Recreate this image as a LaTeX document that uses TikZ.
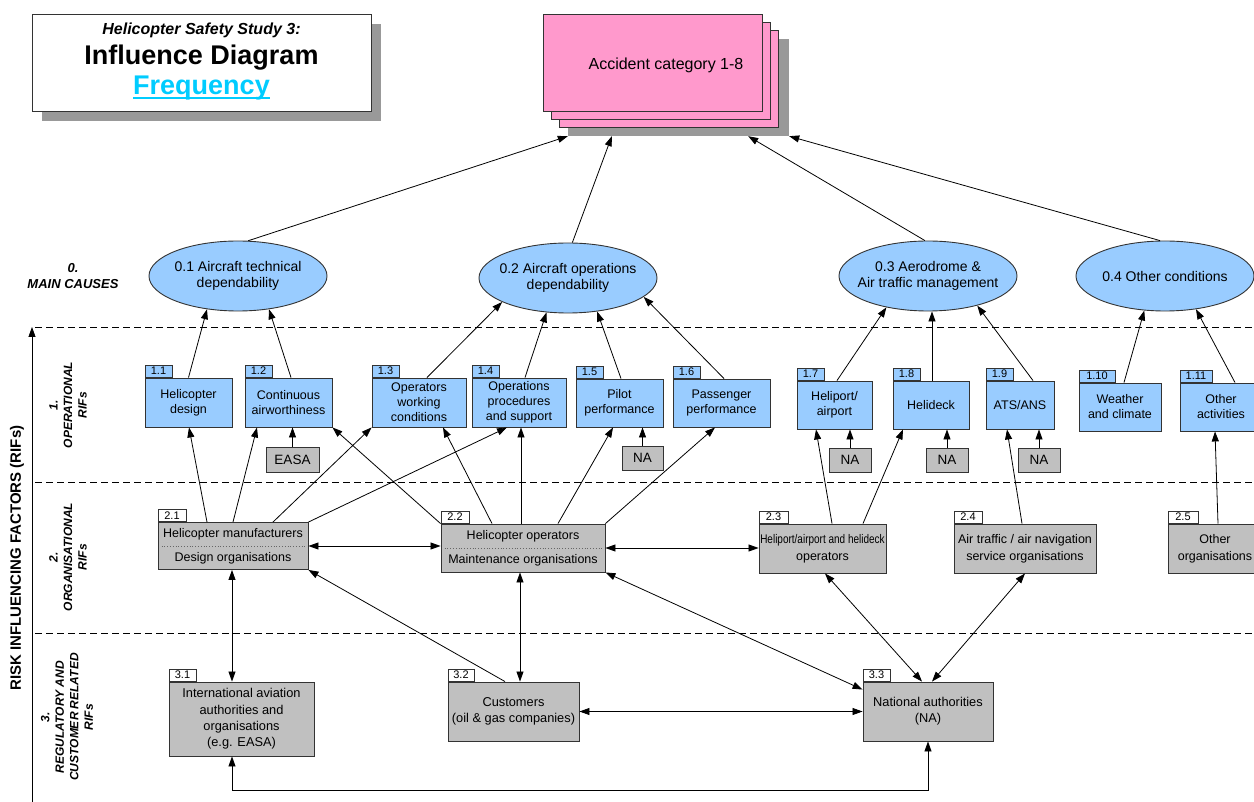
\documentclass[tikz,border=0pt]{standalone}
\usepackage{fontspec}
\setmainfont{Liberation Sans}
\usetikzlibrary{arrows.meta,shapes.geometric,calc}
\definecolor{boxblue}{HTML}{99CCFF}
\definecolor{boxgray}{HTML}{C0C0C0}
\definecolor{accpink}{HTML}{FF99CC}
\definecolor{shdgray}{HTML}{999999}
\definecolor{freqcyan}{HTML}{00CCFF}
\definecolor{edgec}{HTML}{333333}
\begin{document}
\begin{tikzpicture}[x=1pt,y=-1pt,
  lvA/.style={draw=edgec, fill=boxblue, line width=0.9pt, align=center, inner sep=0pt, font=\fontsize{12.5}{15}\selectfont},
  lvB/.style={draw=edgec, fill=boxgray, line width=0.9pt, align=center, inner sep=0pt, font=\fontsize{12.5}{17}\selectfont},
  lvC/.style={lvB, font=\fontsize{12.8}{16.3}\selectfont},
  tagA/.style={draw=edgec, fill=boxblue, line width=0.9pt, inner sep=0pt, minimum height=12pt, minimum width=27pt, anchor=south west, font=\fontsize{11}{11}\selectfont},
  tagB/.style={tagA, fill=white, minimum width=28pt},
  nabox/.style={draw=edgec, fill=boxgray, line width=0.9pt, inner sep=0pt, font=\fontsize{13.5}{14}\selectfont},
  ell/.style={ellipse, draw=edgec, fill=boxblue, line width=0.9pt, minimum width=178pt, minimum height=70pt, inner sep=0pt},
  elltext/.style={align=center, inner sep=0pt, font=\fontsize{14}{16}\selectfont},
  arr/.style={-{Triangle[length=10pt,width=7pt]}, line width=0.8pt},
  darr/.style={{Triangle[length=10pt,width=7pt]}-{Triangle[length=10pt,width=7pt]}, line width=0.8pt},
  sepline/.style={dash pattern=on 7pt off 4pt, line width=0.9pt},
  sidelbl/.style={align=center, font=\fontsize{12}{14.5}\selectfont\bfseries\itshape},
  accbox/.style={draw=edgec, fill=accpink, line width=0.9pt, minimum width=219pt, minimum height=97pt, inner sep=0pt}
]
\useasboundingbox (0,0) rectangle (1254,802);

% ---------- title ----------
\node[fill=shdgray, minimum width=339pt, minimum height=97pt, inner sep=0pt] (titlesh) at (211.5,72.5) {};
\node[draw=edgec, fill=white, line width=0.9pt, minimum width=339pt, minimum height=97pt, inner sep=0pt] (title) at (201.5,62.5) {};
\node[anchor=base, font=\fontsize{16}{18}\selectfont\bfseries\itshape] (tt1) at (201.5,35) {Helicopter Safety Study 3:};
\node[anchor=base, font=\fontsize{27}{29}\selectfont\bfseries] (tt2) at (201.5,65) {Influence Diagram};
\node[anchor=base, inner sep=0pt, text=freqcyan, font=\fontsize{27}{29}\selectfont\bfseries] (tt3) at (201.5,95) {Frequency};
\draw[freqcyan, line width=2pt] ([yshift=-3pt]tt3.base west) -- ([yshift=-3pt]tt3.base east);

% ---------- accident box ----------
\node[fill=shdgray, minimum width=221pt, minimum height=97pt, inner sep=0pt] (accsh) at (678.5,87.5) {};
\node[accbox] (acc3) at (669,79) {};
\node[accbox] (acc2) at (661,71) {};
\node[accbox] (acc1) at (652.5,62.5) {};
\node[font=\fontsize{16}{18}\selectfont] (acctext) at (666,65) {Accident category 1-8};

% ---------- left side ----------
\coordinate (axb) at (32,802);
\coordinate (axt) at (32,327);
\draw[arr] (axb) -- (axt);
\node[rotate=90, font=\fontsize{15}{17}\selectfont\bfseries] (risk) at (17,558) {RISK INFLUENCING FACTORS (RIFs)};
\node[sidelbl, font=\fontsize{13}{16}\selectfont\bfseries\itshape] (s0) at (73,276) {0.\\MAIN CAUSES};
\node[sidelbl, rotate=90] (s1) at (68,405) {1.\\OPERATIONAL\\RIFs};
\node[sidelbl, rotate=90] (s2) at (68,557) {2.\\ORGANISATIONAL\\RIFs};
\node[sidelbl, rotate=90] (s3) at (67,717) {3.\\REGULATORY AND\\CUSTOMER RELATED\\RIFs};

\coordinate (d1a) at (35,327); \coordinate (d1b) at (1254,327);
\coordinate (d2a) at (35,482); \coordinate (d2b) at (1254,482);
\coordinate (d3a) at (35,633); \coordinate (d3b) at (1254,633);
\draw[sepline] (d1a) -- (d1b);
\draw[sepline] (d2a) -- (d2b);
\draw[sepline] (d3a) -- (d3b);

% ---------- main causes ----------
\node[ell] (e01) at (238,276) {};
\node[elltext] (e01t) at (e01) {0.1 Aircraft technical\\dependability};
\node[ell] (e02) at (568,278) {};
\node[elltext] (e02t) at (e02) {0.2 Aircraft operations\\dependability};
\node[ell] (e03) at (928,276) {};
\node[elltext] (e03t) at (e03) {0.3 Aerodrome \&\\Air traffic management};
\node[ell] (e04) at (1165,276) {};
\node[elltext] (e04t) at (e04) {0.4 Other conditions};

% ---------- level 1 ----------
\node[lvA, minimum width=87pt, minimum height=49pt] (n11) at (188.5,402.5) {Helicopter\\design};
\node[tagA] (t11) at (n11.north west) {1.1};
\node[lvA, minimum width=87pt, minimum height=49pt] (n12) at (288.5,402.5) {Continuous\\airworthiness};
\node[tagA] (t12) at (n12.north west) {1.2};
\node[lvA, minimum width=94pt, minimum height=49pt] (n13) at (419,402.5) {Operators\\working\\conditions};
\node[tagA] (t13) at (n13.north west) {1.3};
\node[lvA, minimum width=94pt, minimum height=49pt] (n14) at (519,402.5) {Operations\\procedures\\and support};
\node[tagA] (t14) at (n14.north west) {1.4};
\node[lvA, minimum width=87pt, minimum height=48pt] (n15) at (619.5,403) {Pilot\\performance};
\node[tagA] (t15) at (n15.north west) {1.5};
\node[lvA, minimum width=97pt, minimum height=48pt] (n16) at (721.5,403) {Passenger\\performance};
\node[tagA] (t16) at (n16.north west) {1.6};
\node[lvA, minimum width=75pt, minimum height=48pt] (n17) at (834.5,405) {Heliport/\\airport};
\node[tagA] (t17) at (n17.north west) {1.7};
\node[lvA, minimum width=76pt, minimum height=48pt] (n18) at (931,405) {Helideck};
\node[tagA] (t18) at (n18.north west) {1.8};
\node[lvA, minimum width=68pt, minimum height=48pt] (n19) at (1020,405) {ATS/ANS};
\node[tagA] (t19) at (n19.north west) {1.9};
\node[lvA, minimum width=82pt, minimum height=48pt] (n110) at (1120,407) {Weather\\and climate};
\node[tagA, minimum width=36pt] (t110) at (n110.north west) {1.10};
\node[lvA, minimum width=82pt, minimum height=48pt] (n111) at (1221,407) {Other\\activities};
\node[tagA, minimum width=32pt] (t111) at (n111.north west) {1.11};

\node[nabox, minimum width=53pt, minimum height=25pt] (easa) at (292.5,459.5) {EASA};
\node[nabox, minimum width=41pt, minimum height=24pt] (na5) at (642.5,458) {NA};
\node[nabox, minimum width=42pt, minimum height=24pt] (na7) at (850,460) {NA};
\node[nabox, minimum width=42pt, minimum height=24pt] (na8) at (947,460) {NA};
\node[nabox, minimum width=42pt, minimum height=24pt] (na9) at (1039,460) {NA};

% ---------- level 2 ----------
\node[lvB, minimum width=150pt, minimum height=47pt, font=\fontsize{12.5}{24}\selectfont] (n21) at (233,546) {Helicopter manufacturers\\Design organisations};
\node[tagB] (t21) at (n21.north west) {2.1};
\draw[dotted, line width=0.8pt, black!60] ([xshift=4pt]n21.west) -- ([xshift=-2pt]n21.east);
\node[lvB, minimum width=164pt, minimum height=48pt, font=\fontsize{12.5}{24}\selectfont] (n22) at (523,548) {Helicopter operators\\Maintenance organisations};
\node[tagB] (t22) at (n22.north west) {2.2};
\draw[dotted, line width=0.8pt, black!60] ([xshift=4pt]n22.west) -- ([xshift=-2pt]n22.east);
\node[lvB, minimum width=127pt, minimum height=49pt] (n23) at (822.5,548.5) {\scalebox{0.8}[1]{\fontsize{12.5}{17}\selectfont Heliport/airport and helideck}\\operators};
\node[tagB, minimum width=29pt] (t23) at (n23.north west) {2.3};
\node[lvB, minimum width=142pt, minimum height=49pt] (n24) at (1025,548.5) {Air traffic / air navigation\\service organisations};
\node[tagB] (t24) at (n24.north west) {2.4};
\node[lvB, minimum width=94pt, minimum height=49pt] (n25) at (1215,548.5) {Other\\organisations};
\node[tagB, minimum width=30pt] (t25) at (n25.north west) {2.5};

% ---------- level 3 ----------
\node[lvC, minimum width=145pt, minimum height=74pt] (n31) at (241.5,719) {International aviation\\authorities and\\organisations\\(e.g. EASA)};
\node[tagB, minimum width=27pt] (t31) at (n31.north west) {3.1};
\node[lvC, minimum width=131pt, minimum height=59pt] (n32) at (513.5,711.5) {Customers\\(oil \& gas companies)};
\node[tagB, minimum width=26pt] (t32) at (n32.north west) {3.2};
\node[lvC, minimum width=130pt, minimum height=59pt] (n33) at (928,711.5) {National authorities\\(NA)};
\node[tagB, minimum width=27pt] (t33) at (n33.north west) {3.3};

% ---------- connectors: main causes -> accident ----------
\draw[arr] (e01.74) -- (accsh.south west);
\draw[arr] (e02.83) -- ([xshift=44pt]accsh.south west);
\draw[arr] (e03.95) -- ([xshift=-41pt]accsh.south east);
\draw[arr] (e04.98) -- (accsh.south east);

% ---------- level 1 -> main causes ----------
\draw[arr] (n11.north) -- (e01.227);
\draw[arr] ([xshift=2.5pt]n12.north) -- (e01.313);
\draw[arr] ([xshift=8pt]n13.north) -- (e02.200);
\draw[arr] ([xshift=6pt]n14.north) -- (e02.238);
\draw[arr] ([xshift=1.5pt]n15.north) -- (e02.311);
\draw[arr] ([xshift=2.5pt]n16.north) -- (e02.346);
\draw[arr] ([xshift=2.5pt]n17.north) -- (e03.217);
\draw[arr] ([xshift=1pt]n18.north) -- ([xshift=1pt]n18.north |- e03.south);
\draw[arr] ([xshift=13pt]n19.north) -- (e03.329);
\draw[arr] ([xshift=4pt]n110.north) -- (e04.239);
\draw[arr] ([xshift=14pt]n111.north) -- (e04.313);

% ---------- NA / EASA ----------
\draw[arr] (easa.north) -- (easa.north |- n12.south);
\draw[arr] (na5.north) -- (na5.north |- n15.south);
\draw[arr] (na7.north) -- (na7.north |- n17.south);
\draw[arr] (na8.north) -- (na8.north |- n18.south);
\draw[arr] (na9.north) -- (na9.north |- n19.south);

% ---------- level 2 -> level 1 ----------
\draw[arr] ([xshift=-26pt]n21.north) -- ([xshift=0.5pt]n11.south);
\draw[arr] (n21.north) -- ([xshift=-31.5pt]n12.south);
\draw[arr] ([xshift=40pt]n21.north) -- (n13.south west);
\draw[arr] (n21.north east) -- ([xshift=-12pt]n14.south);
\draw[arr] (n22.north west) -- (n12.south east);
\draw[arr] ([xshift=-31pt]n22.north) -- ([xshift=24pt]n13.south);
\draw[arr] ([xshift=-2pt]n22.north) -- ([xshift=2pt]n14.south);
\draw[arr] ([xshift=35pt]n22.north) -- ([xshift=-6.5pt]n15.south);
\draw[arr] (n22.north east) -- ([xshift=-6.5pt]n16.south);
\draw[arr] ([xshift=9.5pt]n23.north) -- ([xshift=-18.5pt]n17.south);
\draw[arr] ([xshift=40.5pt]n23.north) -- ([xshift=-28pt]n18.south);
\draw[arr] ([xshift=-3pt]n24.north) -- ([xshift=-13pt]n19.south);
\draw[arr] ([xshift=3pt]n25.north) -- ([xshift=-6pt]n111.south);

% ---------- level 2 horizontal ----------
\draw[darr] (n21.east) -- (n21.east -| n22.west);
\draw[darr] (n22.east) -- (n22.east -| n23.west);

% ---------- level 3 ----------
\draw[darr] ([xshift=-1pt]n21.south) -- ([xshift=-1pt]n21.south |- n31.north);
\draw[arr] ([xshift=-8.5pt]n32.north) -- (n21.south east);
\draw[darr] ([xshift=-3pt]n22.south) -- ([xshift=-3pt]n22.south |- n32.north);
\draw[darr] (n22.south east) -- ([yshift=-8pt]n33.north west);
\draw[darr] ([xshift=2.5pt]n23.south) -- ([xshift=-6pt]n33.north);
\draw[darr] (n24.south) -- ([xshift=4pt]n33.north);
\draw[darr] (n32.east) -- (n33.west);
\coordinate (botline) at (0,790);
\draw[darr] ([xshift=-9.5pt]n31.south) |- (botline -| n33.south) -- (n33.south);
\end{tikzpicture}
\end{document}
